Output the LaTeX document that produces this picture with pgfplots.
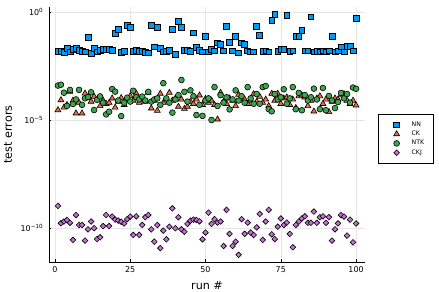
\documentclass[border=0pt]{standalone}
\usepackage{pgfplots}
\usepackage{pgfplotstable}
\usepackage{fontspec}
\setmainfont{DejaVu Sans}
\pgfplotsset{compat=1.18}
\definecolor{cNN}{HTML}{009AFA}
\definecolor{cCK}{HTML}{E36F47}
\definecolor{cNTK}{HTML}{3EA44E}
\definecolor{cCKJ}{HTML}{C271D2}
% values are log10 of the test error
\pgfplotstableread{
run NN CK NTK CKJ
1 -1.81 -4.54 -3.41 -8.97
2 -1.81 -4.08 -3.37 -9.77
3 -1.87 -4.42 -3.74 -9.69
4 -1.69 -4.30 -4.35 -9.62
5 -1.85 -3.69 -3.61 -9.75
6 -1.74 -4.10 -4.26 -10.54
7 -1.69 -4.69 -4.05 -9.39
8 -1.77 -4.20 -3.61 -9.85
9 -1.81 -4.69 -4.30 -9.85
10 -1.85 -3.77 -4.00 -10.57
11 -1.18 -3.95 -3.94 -10.05
12 -1.92 -4.15 -3.72 -9.69
13 -1.69 -3.92 -4.54 -10.00
14 -1.85 -4.05 -4.07 -10.50
15 -1.77 -4.35 -3.91 -10.42
16 -1.74 -4.10 -4.20 -9.90
17 -1.74 -4.25 -4.74 -9.39
18 -1.74 -4.20 -4.62 -9.90
19 -1.77 -4.00 -3.57 -9.46
20 -1.00 -4.42 -3.69 -9.60
21 -0.81 -4.15 -4.10 -9.65
22 -1.87 -3.98 -4.82 -9.70
23 -1.81 -4.30 -4.20 -9.78
24 -0.61 -4.05 -3.97 -9.58
25 -0.72 -3.89 -4.15 -9.46
26 -1.81 -4.10 -3.65 -10.31
27 -1.77 -3.77 -3.95 -9.45
28 -1.81 -4.20 -4.05 -10.31
29 -1.81 -4.05 -3.92 -9.85
30 -1.87 -4.15 -4.10 -9.49
31 -1.90 -3.74 -3.70 -9.39
32 -0.61 -4.46 -4.15 -10.05
33 -1.62 -4.10 -4.05 -10.62
34 -0.72 -4.57 -4.00 -9.85
35 -1.69 -3.78 -4.30 -10.92
36 -1.85 -4.20 -3.30 -10.11
37 -1.81 -4.05 -4.00 -10.51
38 -1.77 -3.74 -4.20 -9.93
39 -0.81 -4.10 -4.66 -9.08
40 -1.95 -4.00 -4.05 -10.00
41 -0.43 -4.38 -3.85 -9.49
42 -0.72 -4.05 -3.15 -10.05
43 -1.77 -4.48 -3.70 -10.16
44 -1.77 -4.38 -4.15 -9.80
45 -1.81 -4.15 -3.63 -9.65
46 -0.97 -4.25 -3.90 -9.60
47 -1.66 -4.05 -4.77 -9.62
48 -1.77 -3.86 -4.30 -9.68
49 -1.85 -4.30 -4.81 -10.51
50 -1.12 -4.02 -4.10 -10.20
51 -1.85 -4.20 -4.00 -9.28
52 -1.72 -4.10 -5.00 -9.80
53 -1.80 -4.30 -3.48 -9.58
54 -1.43 -4.97 -4.35 -9.74
55 -1.51 -3.74 -3.85 -9.69
56 -1.80 -4.15 -4.20 -10.82
57 -0.69 -4.25 -3.95 -9.15
58 -1.41 -4.00 -4.51 -10.26
59 -1.80 -4.10 -4.05 -10.82
60 -1.12 -4.35 -3.63 -10.62
61 -1.90 -3.83 -4.10 -11.23
62 -1.43 -4.05 -3.90 -9.58
63 -1.50 -4.05 -4.20 -10.26
64 -1.80 -4.25 -3.48 -9.74
65 -1.85 -4.10 -4.00 -10.20
66 -1.85 -3.80 -4.25 -10.31
67 -0.69 -4.15 -3.80 -9.96
68 -1.08 -3.92 -4.25 -9.34
69 -1.83 -4.20 -3.48 -10.54
70 -1.80 -4.05 -3.43 -9.69
71 -1.85 -4.35 -4.50 -9.15
72 -0.41 -3.78 -4.60 -10.28
73 -0.11 -4.10 -3.80 -10.50
74 -1.83 -3.78 -4.05 -9.93
75 -1.75 -4.25 -3.95 -9.55
76 -1.75 -4.00 -3.58 -9.85
77 -0.15 -3.95 -4.25 -9.74
78 -1.83 -4.30 -4.00 -10.26
79 -1.80 -4.05 -3.48 -10.88
80 -1.12 -4.44 -4.50 -9.85
81 -1.12 -3.90 -3.75 -9.69
82 -0.84 -3.85 -4.55 -9.55
83 -1.80 -3.95 -3.85 -9.45
84 -1.80 -4.35 -4.10 -9.75
85 -0.23 -4.10 -3.95 -9.75
86 -1.85 -4.60 -3.55 -9.23
87 -1.82 -4.00 -4.05 -9.75
88 -1.85 -3.90 -4.50 -9.49
89 -1.80 -4.25 -3.52 -9.45
90 -1.85 -4.05 -4.55 -9.75
91 -1.80 -4.63 -3.89 -9.49
92 -1.12 -4.15 -4.10 -10.57
93 -1.85 -4.00 -4.45 -10.05
94 -1.80 -4.05 -4.17 -9.78
95 -1.62 -3.85 -3.75 -9.39
96 -1.85 -3.80 -4.00 -9.46
97 -1.58 -4.10 -3.80 -10.34
98 -1.60 -4.25 -4.20 -9.60
99 -1.80 -4.10 -3.50 -10.65
100 -0.31 -4.32 -3.56 -9.78
}\data
\newcommand{\tenpow}[1]{10\raisebox{3.4bp}{\fontsize{5.7}{6}\selectfont #1}}
\begin{document}
\begin{tikzpicture}
\path[use as bounding box] (-49bp,-30bp) rectangle (390bp,262bp);
\begin{axis}[
  at={(0,0)}, anchor=south west,
  scale only axis, width=316bp, height=255bp,
  xmin=-1.97, xmax=102.97, ymin=-11.56, ymax=0.22,
  axis x line*=bottom, axis y line*=left,
  axis line style={black, line width=0.6bp, -},
  xtick={0,25,50,75,100}, ytick={-10,-5,0},
  yticklabels={\tenpow{−10},\tenpow{−5},\tenpow{0}},
  tick align=inside, major tick length=2.5bp,
  tick style={black, line width=0.5bp},
  grid=major, grid style={black!10, line width=0.5bp},
  /pgf/number format/assume math mode=true,
  xticklabel style={font=\fontsize{8}{9}\selectfont, inner sep=0pt, anchor=north, yshift=-4.7bp},
  yticklabel style={font=\fontsize{8}{9}\selectfont, inner sep=0pt, anchor=east, xshift=-6bp},
  xlabel={run \#}, ylabel={test errors},
  label style={font=\fontsize{11.2}{13}\selectfont},
  xlabel style={at={(axis description cs:0.5,0)}, anchor=base, yshift=-27bp, inner sep=0pt},
  ylabel style={at={(axis description cs:-0.1171,0.5)}, anchor=base, inner sep=0pt},
  legend style={at={(axis description cs:1,0.58)}, xshift=13bp, anchor=north west,
    draw=black, line width=0.5bp, fill=white,
    font=\fontsize{6.2}{7}\selectfont,
    inner xsep=0bp, inner ysep=5.8bp,
    nodes={inner sep=0pt, draw=none},
    cells={anchor=west}, column sep=11bp, row sep=0bp},
  legend image code/.code={\path[draw=none, fill=none] (-18.4bp,-4.65bp) rectangle (4bp,4.65bp); \draw[#1] plot coordinates {(0bp,0bp)};},
]
\addplot[only marks, mark=square*, mark size=2.9bp, mark options={fill=cNN, draw=black, line width=0.6bp}] table[x=run, y=NN] {\data};
\addlegendentry{\makebox[22bp][l]{NN}}
\addplot[only marks, mark=triangle*, mark size=3.4bp, mark options={fill=cCK, draw=black, line width=0.6bp}] table[x=run, y=CK] {\data};
\addlegendentry{\makebox[22bp][l]{CK}}
\addplot[only marks, mark=*, mark size=2.9bp, mark options={fill=cNTK, draw=black, line width=0.6bp}] table[x=run, y=NTK] {\data};
\addlegendentry{\makebox[22bp][l]{NTK}}
\addplot[only marks, mark=square*, mark size=2.0bp, mark options={fill=cCKJ, draw=black, line width=0.6bp, rotate=45}] table[x=run, y=CKJ] {\data};
\addlegendentry{\makebox[22bp][l]{CKJ}}
\end{axis}
\end{tikzpicture}
\end{document}
